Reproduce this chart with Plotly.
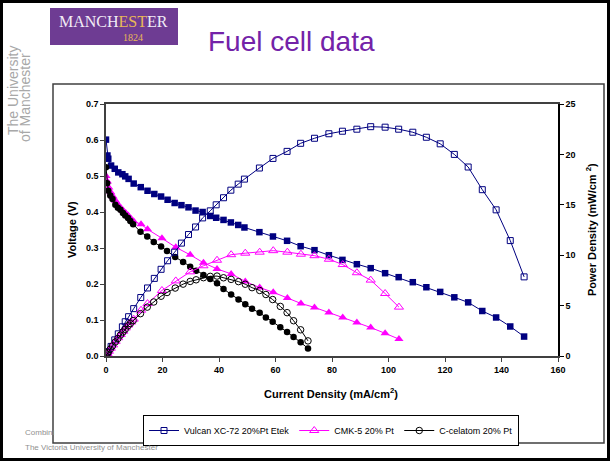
import plotly.graph_objects as go

# ---------------- data ----------------
vulcan_x = [0, 0.5, 0.8, 1.8, 3.1, 4.35, 5.8, 6.8, 8.0, 9.8,
            12.3, 14.7, 17.1, 19.5, 21.8, 24.3, 26.7, 29.2, 31.7, 34.2,
            36.9, 39.0, 41.6, 44.2, 46.8, 49.0, 54.3, 59.1, 64.1, 68.9,
            73.8, 78.9, 83.7, 88.8, 93.7, 98.8, 103.6, 108.6, 113.4, 118.3,
            123.3, 128.2, 133.2, 138.1, 143.1, 148.0]
vulcan_v = [0.601, 0.557, 0.548, 0.529, 0.520, 0.510, 0.505, 0.499, 0.492, 0.479,
            0.469, 0.459, 0.450, 0.443, 0.434, 0.425, 0.419, 0.413, 0.404, 0.400,
            0.389, 0.384, 0.378, 0.371, 0.364, 0.357, 0.344, 0.332, 0.320, 0.305,
            0.294, 0.280, 0.267, 0.255, 0.244, 0.230, 0.219, 0.205, 0.191, 0.178,
            0.163, 0.149, 0.125, 0.107, 0.082, 0.054]
vulcan_p = [0, 0.28, 0.44, 0.95, 1.6, 2.2, 2.9, 3.4, 3.9, 4.7,
            5.8, 6.75, 7.7, 8.6, 9.45, 10.3, 11.2, 12.05, 12.8, 13.7,
            14.4, 15.0, 15.7, 16.45, 17.05, 17.55, 18.65, 19.6, 20.3, 21.1,
            21.6, 22.05, 22.3, 22.5, 22.75, 22.7, 22.5, 22.2, 21.7, 21.05,
            20.0, 18.75, 16.5, 14.5, 11.45, 7.85]

cmk_x = [0, 0.5, 1.0, 1.7, 2.5, 3.4, 4.3, 5.2, 6.1, 7.0, 7.9, 8.8, 9.8,
         12.4, 14.7, 19.8, 24.7, 29.8, 34.5, 39.3, 44.3, 49.3, 54.4, 59.2,
         64.2, 69.0, 73.8, 78.9, 83.8, 88.8, 93.7, 98.8, 103.7]
cmk_v = [0.500, 0.485, 0.468, 0.455, 0.443, 0.431, 0.421, 0.412, 0.404, 0.397, 0.390, 0.382, 0.374,
         0.366, 0.352, 0.327, 0.302, 0.281, 0.259, 0.242, 0.228, 0.207, 0.190, 0.177,
         0.161, 0.146, 0.135, 0.121, 0.107, 0.093, 0.079, 0.063, 0.047]
cmk_p = [0, 0.24, 0.47, 0.77, 1.1, 1.46, 1.81, 2.14, 2.46, 2.78, 3.08, 3.36, 3.66,
         4.54, 5.2, 6.5, 7.45, 8.35, 8.95, 9.5, 10.05, 10.2, 10.3, 10.45,
         10.3, 10.1, 9.95, 9.6, 9.07, 8.26, 7.53, 6.2, 4.85]

cel_x = [0, 0.4, 0.8, 1.5, 2.3, 3.3, 4.2, 5.1, 6.0, 6.8, 7.8, 8.6, 9.6,
         12.2, 14.6, 16.9, 19.5, 21.6, 24.5, 27.3, 29.8, 31.9, 34.5, 36.9, 39.3,
         41.6, 44.3, 46.9, 49.3, 51.7, 54.4, 56.6, 59.0, 61.7, 64.1, 66.4, 68.9, 71.5]
cel_v = [0.524, 0.480, 0.459, 0.446, 0.436, 0.420, 0.412, 0.406, 0.397, 0.390, 0.383, 0.375, 0.366,
         0.345, 0.332, 0.317, 0.304, 0.292, 0.275, 0.261, 0.248, 0.237, 0.225, 0.214, 0.202,
         0.186, 0.171, 0.157, 0.144, 0.131, 0.120, 0.107, 0.095, 0.080, 0.067, 0.053, 0.038, 0.021]
cel_p = [0, 0.19, 0.37, 0.67, 1.0, 1.39, 1.73, 2.07, 2.38, 2.65, 2.99, 3.22, 3.51,
         4.2, 4.85, 5.36, 5.93, 6.3, 6.74, 7.13, 7.4, 7.56, 7.77, 7.9, 7.93,
         7.76, 7.6, 7.38, 7.12, 6.78, 6.5, 6.1, 5.6, 4.92, 4.3, 3.5, 2.6, 1.5]

series_names = ["Vulcan XC-72 20%Pt Etek", "CMK-5 20% Pt", "C-celatom 20% Pt"]

# ---------------- layout helpers ----------------
W, H = 610, 461
L, R, T, B = 106, 52, 104, 105
PW, PH = W - L - R, H - T - B


def px(x):
    return (x - L) / PW


def py(y):
    return (H - B - y) / PH


FONT = "Liberation Sans, Arial, sans-serif"
SERIF = "Liberation Serif, DejaVu Serif, serif"
NAVY = "#000080"
MAG = "#FF00FF"
BLK = "#000000"

fig = go.Figure()

specs = [
    (vulcan_x, vulcan_v, vulcan_p, NAVY, "square", "square-open", 6.5, 6, series_names[0]),
    (cmk_x, cmk_v, cmk_p, MAG, "triangle-up", "triangle-up-open", 8, 8, series_names[1]),
    (cel_x, cel_v, cel_p, BLK, "circle", "circle-open", 6.5, 6.5, series_names[2]),
]
for xs, vs, ps, col, filled, opened, s1, s2, name in specs:
    fig.add_trace(go.Scatter(x=xs, y=vs, mode="lines+markers", name=name,
                             showlegend=False, yaxis="y",
                             line=dict(color=col, width=1),
                             marker=dict(symbol=filled, size=s1, color=col)))
    fig.add_trace(go.Scatter(x=xs, y=ps, mode="lines+markers", name=name,
                             showlegend=True, yaxis="y2",
                             line=dict(color=col, width=1),
                             marker=dict(symbol=opened, size=s2, color=col,
                                         line=dict(color=col, width=1))))

tickfont = dict(family=FONT, size=9, color="#000000", weight="bold")

fig.update_layout(
    width=W, height=H, autosize=False,
    margin=dict(l=L, r=R, t=T, b=B, pad=0),
    paper_bgcolor="white", plot_bgcolor="white",
    font=dict(family=FONT, color="#000000"),
    xaxis=dict(range=[0, 160], dtick=20, tick0=0, showgrid=False, zeroline=False,
               showline=True, linecolor="#404040", linewidth=1.5, mirror=True,
               ticks="outside", ticklen=4, tickcolor="#404040", tickfont=tickfont),
    yaxis=dict(range=[0, 0.7], dtick=0.1, tick0=0, tickformat=".1f", showgrid=False,
               zeroline=False, showline=True, linecolor="#404040", linewidth=1.5,
               ticks="outside", ticklen=4, tickcolor="#404040", tickfont=tickfont),
    yaxis2=dict(range=[0, 25], dtick=5, tick0=0, overlaying="y", side="right",
                showgrid=False, zeroline=False, showline=True, linecolor="#000000",
                linewidth=1.5, ticks="outside", ticklen=4, tickcolor="#000000",
                tickfont=tickfont),
    legend=dict(orientation="h", x=px(331), xanchor="center", y=py(415), yanchor="top",
                bgcolor="white", bordercolor="#000000", borderwidth=1,
                font=dict(family=FONT, size=9, color="#000000"),
                itemwidth=30, tracegroupgap=0),
    showlegend=True,
)

shapes = [
    # slide border
    dict(type="rect", xref="paper", yref="paper", x0=px(1.5), x1=px(608.5),
         y0=py(459.5), y1=py(1.5), line=dict(color="#000000", width=3), layer="below"),
    # chart box
    dict(type="rect", xref="paper", yref="paper", x0=px(53), x1=px(604),
         y0=py(443), y1=py(84), line=dict(color="#404040", width=1.5), layer="below"),
    # logo
    dict(type="rect", xref="paper", yref="paper", x0=px(50), x1=px(178),
         y0=py(45), y1=py(8), fillcolor="#6E3C93", line=dict(width=0), layer="below"),
]
fig.update_layout(shapes=shapes)

ann = [
    dict(text="MANCH<span style='color:#E9B857'>EST</span>ER", x=px(57), y=py(21),
         xanchor="left", font=dict(family=SERIF, size=16, color="#F2ECF6")),
    dict(text="1824", x=px(133), y=py(37),
         font=dict(family=SERIF, size=10, color="#E9B857")),
    dict(text="Fuel cell data", x=px(291), y=py(41),
         font=dict(family=FONT, size=28, color="#7322A8")),
    dict(text="The University", x=px(13), y=py(91), textangle=-90,
         font=dict(family=FONT, size=14, color="#A8A8A8")),
    dict(text="of Manchester", x=px(25), y=py(98), textangle=-90,
         font=dict(family=FONT, size=14, color="#A8A8A8")),
    dict(text="Combini", x=px(23), y=py(432), xanchor="left",
         font=dict(family=FONT, size=8, color="#909090")),
    dict(text="The Victoria University of Manchester", x=px(23), y=py(447), xanchor="left",
         font=dict(family=FONT, size=8, color="#909090")),
    dict(text="<b>Current Density (mA/cm<sup>2</sup>)</b>", x=px(331), y=py(393),
         font=dict(family=FONT, size=11, color="#000000")),
    dict(text="<b>Voltage (V)</b>", x=px(72), y=py(230), textangle=-90,
         font=dict(family=FONT, size=11, color="#000000")),
    dict(text="<b>Power Density (mW/cm <sup>2</sup>)</b>", x=px(591), y=py(230), textangle=-90,
         font=dict(family=FONT, size=11, color="#000000")),
]
for a in ann:
    a.setdefault("xanchor", "center")
    a.update(xref="paper", yref="paper", showarrow=False, yanchor="middle")
fig.update_layout(annotations=ann)

fig.write_html("out.html", config={"displayModeBar": False},
               post_script="document.body.style.margin='0px';")
